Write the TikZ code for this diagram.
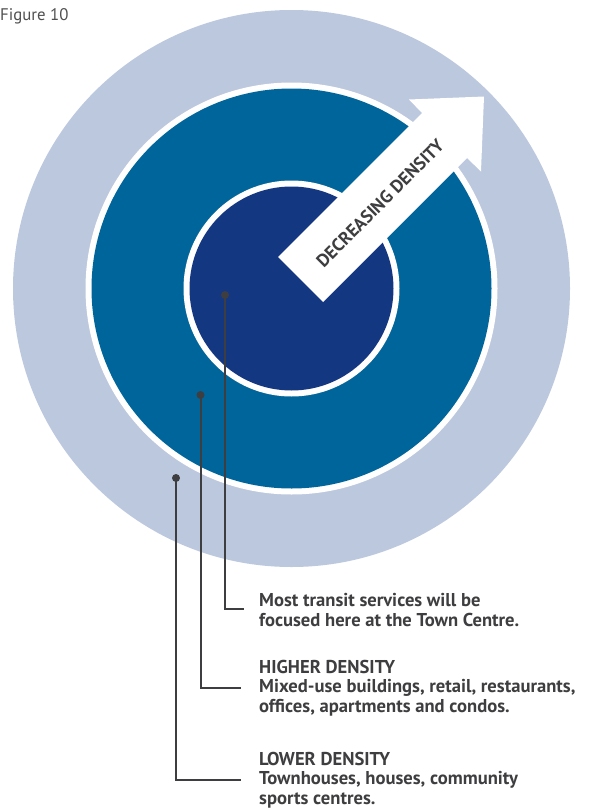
\documentclass[tikz,border=0pt]{standalone}
\usepackage{fontspec}
\setmainfont{PT Sans}
\definecolor{outerblue}{RGB}{188,200,222}
\definecolor{midblue}{RGB}{0,101,154}
\definecolor{navy}{RGB}{20,55,130}
\definecolor{ink}{RGB}{62,62,64}
\definecolor{figgray}{RGB}{80,80,80}
\tikzset{
  dotnode/.style={circle,fill=ink,inner sep=0pt,minimum size=8pt},
  leader/.style={draw=ink,line width=2pt},
  label/.style={anchor=base west,inner sep=0pt,text=ink,font=\fontsize{18.6}{20}\selectfont\bfseries},
}
\begin{document}
\begin{tikzpicture}[x=1pt,y=-1pt]
\useasboundingbox (0,0) rectangle (589,811);
% circles
\fill[outerblue] (291.5,288.5) circle (278.5);
\fill[white] (291.5,288.5) circle (206);
\fill[midblue] (291.5,288.5) circle (200);
\fill[white] (291.5,288.5) circle (108);
\fill[navy] (291.5,288.5) circle (102);
% arrow
\fill[white] (278,257) -- (422,113) -- (409,99.5) -- (484,96.5) -- (481,171.5) -- (467,158) -- (323,302) -- cycle;
\node[rotate=45,inner sep=0pt,text=ink,font=\fontsize{18}{20}\selectfont\bfseries] (arrowtext) at (380,203.5) {DECREASING DENSITY};
% figure label
\node[anchor=base west,inner sep=0pt,text=figgray,font=\fontsize{16.8}{18}\selectfont] (fig) at (0,20) {Figure 10};
% dots and leaders
\node[dotnode] (d1) at (225,295) {};
\node[dotnode] (d2) at (200.5,395) {};
\node[dotnode] (d3) at (176,478) {};
\coordinate (e1) at (244,609.3);
\coordinate (e2) at (241,687.7);
\coordinate (e3) at (241,780);
\draw[leader] (d1.center) |- (e1);
\draw[leader] (d2.center) |- (e2);
\draw[leader] (d3.center) |- (e3);
% texts
\node[label] (t1a) at (259,606.7) {Most transit services will be};
\node[label] (t1b) at (259,626.3) {focused here at the Town Centre.};
\node[label] (t2a) at (259,673.3) {HIGHER DENSITY};
\node[label] (t2b) at (259,692.8) {Mixed-use buildings, retail, restaurants,};
\node[label] (t2c) at (259,712.6) {offices, apartments and condos.};
\node[label] (t3a) at (259,765) {LOWER DENSITY};
\node[label] (t3b) at (259,784.4) {Townhouses, houses, community};
\node[label] (t3c) at (259,804) {sports centres.};
\end{tikzpicture}
\end{document}
